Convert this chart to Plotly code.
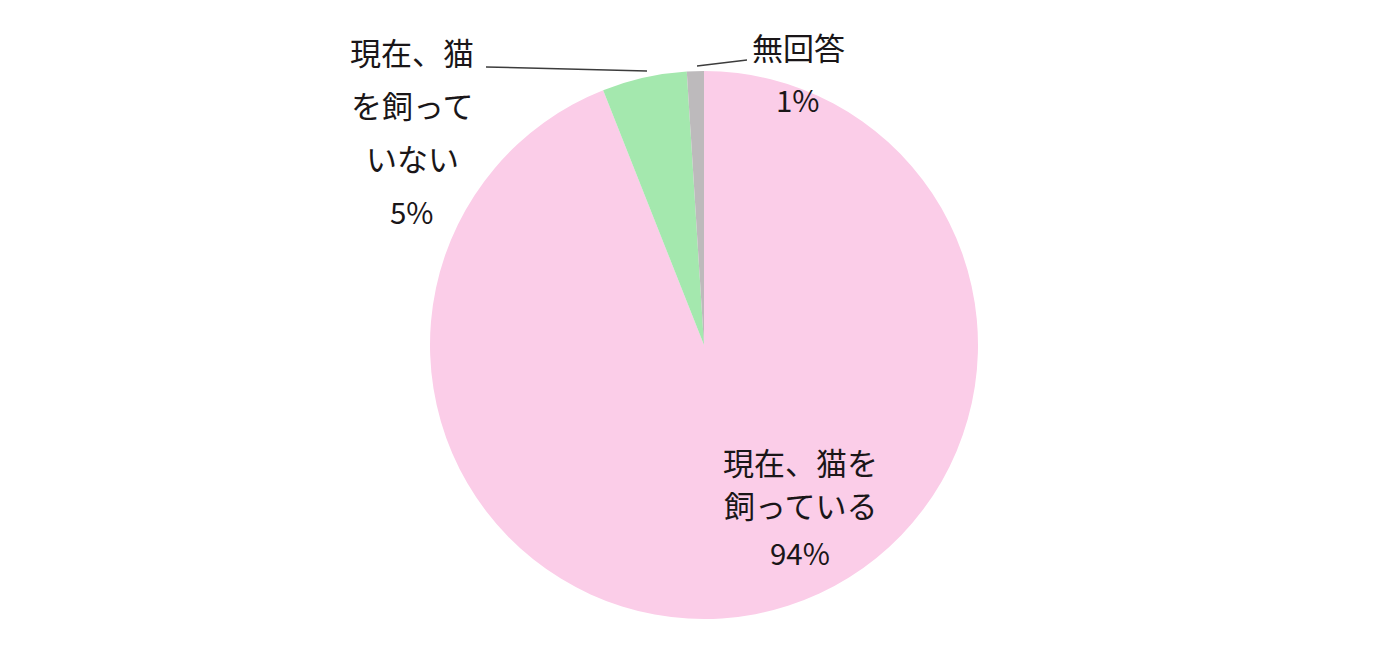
import plotly.graph_objects as go

# data
labels = ["現在、猫を飼っている", "現在、猫を飼っていない", "無回答"]
values = [94, 5, 1]
colors = ["#FBCDE8", "#A4E8AE", "#BDBABC"]

# how each label is broken into lines in the picture
label_lines = [
    ["現在、猫を", "飼っている"],
    ["現在、猫", "を飼って", "いない"],
    ["無回答"],
]

W, H = 1400, 664
OFF = 8  # page body margin shifts the figure by this much
FONT = "Noto Sans CJK JP, Meiryo, sans-serif"
TXT = "#1A1618"

# text placement in screen pixels: (center x, y of each line..., y of percent)
text_pos = [
    (800, [461, 504], 552),
    (412, [51, 104, 157], 211),
    (798, [46], 99),
]


def px(x, y):
    # screen pixel -> paper coords
    return (x - OFF) / W, 1 - (y - OFF) / H


fig = go.Figure(go.Pie(
    labels=labels,
    values=values,
    sort=False,
    direction="clockwise",
    rotation=0,
    marker=dict(colors=colors, line=dict(width=0)),
    textinfo="none",
    hoverinfo="label+percent",
    showlegend=False,
    domain=dict(x=[422 / W, 970 / W], y=[(H - 611) / H, (H - 63) / H]),
))

annotations = []
for lines, val, (cx, ys, py) in zip(label_lines, values, text_pos):
    for line, y in zip(lines, ys):
        x0, y0 = px(cx, y)
        annotations.append(dict(x=x0, y=y0, xref="paper", yref="paper",
                                text=line, showarrow=False,
                                xanchor="center", yanchor="middle",
                                font=dict(size=31, color=TXT, family=FONT)))
    x0, y0 = px(cx, py)
    annotations.append(dict(x=x0, y=y0, xref="paper", yref="paper",
                            text=f"{val}%", showarrow=False,
                            xanchor="center", yanchor="middle",
                            font=dict(size=29.5, color=TXT, family=FONT)))

# leader lines for the two small slices
leaders = [((486, 67), (647, 71)), ((697, 66), (747, 60))]
shapes = []
for (xa, ya), (xb, yb) in leaders:
    x1, y1 = px(xa, ya)
    x2, y2 = px(xb, yb)
    shapes.append(dict(type="line", xref="paper", yref="paper",
                       x0=x1, y0=y1, x1=x2, y1=y2,
                       line=dict(color="#3C3C3C", width=1.5)))

fig.update_layout(
    width=W, height=H,
    margin=dict(l=0, r=0, t=0, b=0),
    paper_bgcolor="white",
    plot_bgcolor="white",
    annotations=annotations,
    shapes=shapes,
)

fig.write_html("out.html")
